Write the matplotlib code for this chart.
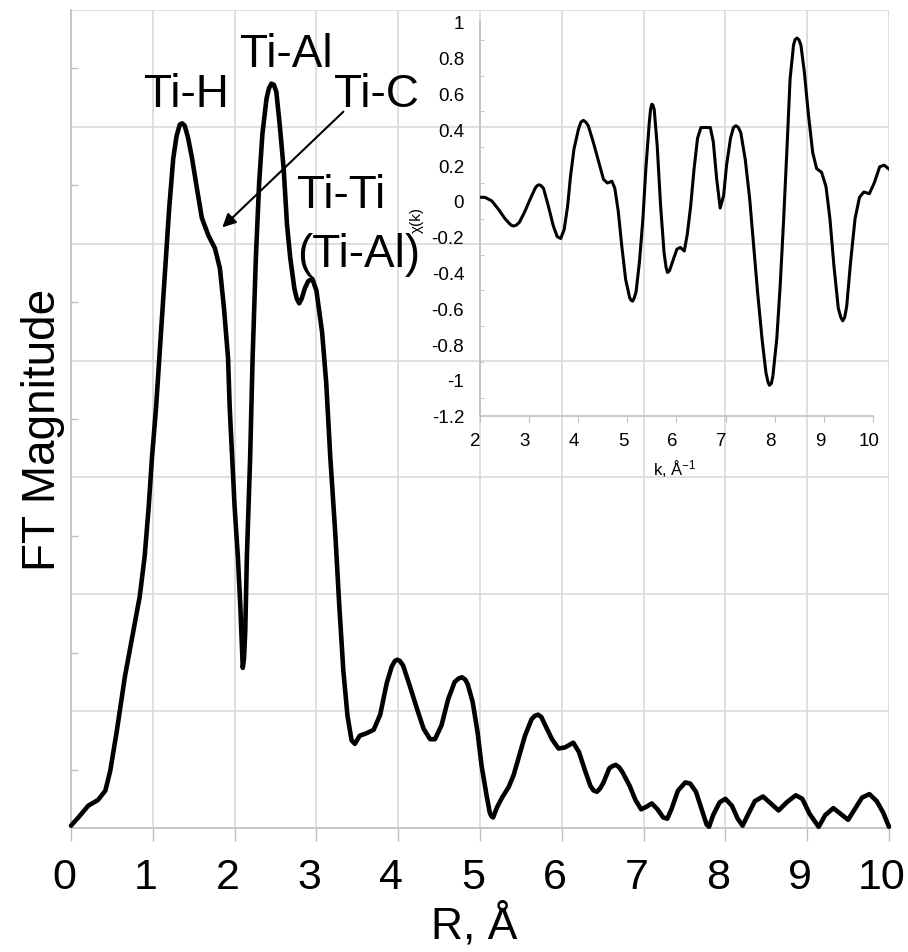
import numpy as np
import matplotlib
matplotlib.use("Agg")
import matplotlib.pyplot as plt
from matplotlib.transforms import ScaledTranslation

plt.rcParams['font.family'] = ['Liberation Sans', 'DejaVu Sans']
plt.rcParams['mathtext.fontset'] = 'custom'
plt.rcParams['mathtext.rm'] = 'Liberation Sans'
plt.rcParams['mathtext.it'] = 'Liberation Sans:italic'

# FT magnitude vs R (arbitrary units)
r_vals = [0.00, 0.09, 0.21, 0.33, 0.42, 0.48, 0.56, 0.66, 0.76, 0.84,
          0.90, 0.95, 0.99, 1.04, 1.08, 1.12, 1.16, 1.20, 1.25, 1.29,
          1.33, 1.36, 1.39, 1.43, 1.48, 1.54, 1.60, 1.68, 1.76, 1.82,
          1.87, 1.92, 1.94, 1.97, 2.00, 2.04, 2.07, 2.09, 2.10, 2.115,
          2.13, 2.15, 2.19, 2.22, 2.26, 2.30, 2.34, 2.39, 2.42, 2.45,
          2.48, 2.51, 2.55, 2.60, 2.64, 2.68, 2.73, 2.76, 2.79, 2.82,
          2.86, 2.90, 2.95, 3.00, 3.07, 3.12, 3.17, 3.23, 3.28, 3.33,
          3.38, 3.43, 3.47, 3.53, 3.61, 3.70, 3.78, 3.86, 3.92, 3.96,
          3.99, 4.02, 4.06, 4.14, 4.23, 4.31, 4.39, 4.45, 4.53, 4.61,
          4.69, 4.74, 4.78, 4.82, 4.85, 4.91, 4.97, 5.02, 5.08, 5.12,
          5.14, 5.16, 5.21, 5.27, 5.35, 5.41, 5.48, 5.55, 5.63, 5.67,
          5.71, 5.75, 5.79, 5.88, 5.96, 6.04, 6.14, 6.21, 6.28, 6.35,
          6.39, 6.43, 6.47, 6.51, 6.58, 6.62, 6.66, 6.70, 6.74, 6.83,
          6.90, 6.97, 7.03, 7.10, 7.17, 7.24, 7.29, 7.34, 7.42, 7.51,
          7.57, 7.64, 7.71, 7.77, 7.80, 7.85, 7.93, 8.00, 8.08, 8.15,
          8.21, 8.28, 8.36, 8.46, 8.54, 8.65, 8.75, 8.86, 8.94, 9.03,
          9.14, 9.22, 9.32, 9.41, 9.50, 9.58, 9.67, 9.76, 9.85, 9.93,
          10.00]
ft_vals = [0.02, 0.09, 0.19, 0.24, 0.32, 0.49, 0.83, 1.30, 1.68, 1.98,
           2.32, 2.75, 3.17, 3.60, 4.02, 4.45, 4.88, 5.30, 5.73, 5.92,
           6.02, 6.03, 6.01, 5.91, 5.73, 5.47, 5.22, 5.07, 4.96, 4.79,
           4.45, 4.02, 3.60, 3.17, 2.75, 2.32, 1.90, 1.55, 1.37, 1.45,
           1.68, 2.32, 3.17, 4.02, 4.88, 5.52, 5.94, 6.24, 6.33, 6.37,
           6.36, 6.30, 6.03, 5.64, 5.17, 4.88, 4.62, 4.53, 4.49, 4.53,
           4.62, 4.68, 4.70, 4.60, 4.24, 3.81, 3.17, 2.53, 1.90, 1.34,
           0.96, 0.75, 0.72, 0.79, 0.81, 0.84, 0.97, 1.24, 1.38, 1.43,
           1.44, 1.43, 1.39, 1.22, 1.02, 0.85, 0.76, 0.76, 0.88, 1.10,
           1.25, 1.28, 1.29, 1.27, 1.23, 1.08, 0.82, 0.53, 0.28, 0.13,
           0.10, 0.09, 0.18, 0.26, 0.35, 0.45, 0.62, 0.79, 0.93, 0.96,
           0.97, 0.95, 0.89, 0.76, 0.68, 0.69, 0.73, 0.65, 0.50, 0.36,
           0.32, 0.31, 0.34, 0.39, 0.51, 0.53, 0.54, 0.52, 0.48, 0.36,
           0.24, 0.16, 0.18, 0.21, 0.16, 0.09, 0.08, 0.16, 0.32, 0.39,
           0.38, 0.31, 0.16, 0.03, 0.01, 0.11, 0.22, 0.25, 0.19, 0.08,
           0.02, 0.12, 0.23, 0.27, 0.22, 0.15, 0.22, 0.28, 0.25, 0.12,
           0.01, 0.11, 0.17, 0.12, 0.07, 0.16, 0.26, 0.29, 0.23, 0.13,
           0.01]

# chi(k) for the inset
k_vals = [2.00, 2.11, 2.25, 2.38, 2.52, 2.62, 2.66, 2.70, 2.75, 2.81,
          2.92, 3.03, 3.13, 3.17, 3.21, 3.25, 3.30, 3.40, 3.50, 3.58,
          3.65, 3.72, 3.79, 3.85, 3.92, 4.01, 4.06, 4.11, 4.16, 4.21,
          4.31, 4.42, 4.52, 4.60, 4.69, 4.75, 4.82, 4.89, 4.97, 5.05,
          5.08, 5.11, 5.14, 5.18, 5.25, 5.32, 5.38, 5.45, 5.475, 5.50,
          5.525, 5.55, 5.61, 5.68, 5.75, 5.79, 5.82, 5.86, 5.91, 6.01,
          6.08, 6.16, 6.22, 6.29, 6.36, 6.43, 6.50, 6.58, 6.69, 6.75,
          6.82, 6.89, 6.96, 7.02, 7.10, 7.16, 7.21, 7.26, 7.31, 7.40,
          7.49, 7.57, 7.65, 7.74, 7.82, 7.86, 7.89, 7.93, 7.96, 8.04,
          8.11, 8.18, 8.25, 8.31, 8.38, 8.41, 8.45, 8.49, 8.53, 8.60,
          8.68, 8.77, 8.85, 8.95, 9.04, 9.12, 9.20, 9.29, 9.34, 9.38,
          9.42, 9.46, 9.54, 9.63, 9.72, 9.81, 9.92, 10.02, 10.13, 10.22,
          10.31]
chi_vals = [0.02, 0.02, 0.00, -0.045, -0.10, -0.13, -0.138, -0.14, -0.135, -0.12,
            -0.06, 0.01, 0.07, 0.085, 0.09, 0.085, 0.07, -0.03, -0.14, -0.20,
            -0.21, -0.16, -0.03, 0.14, 0.29, 0.40, 0.44, 0.45, 0.44, 0.42,
            0.33, 0.22, 0.12, 0.10, 0.11, 0.07, -0.06, -0.25, -0.44, -0.54,
            -0.555, -0.56, -0.545, -0.51, -0.34, -0.10, 0.18, 0.44, 0.51, 0.54,
            0.535, 0.51, 0.31, -0.03, -0.29, -0.37, -0.40, -0.39, -0.35, -0.27,
            -0.26, -0.28, -0.19, -0.03, 0.18, 0.35, 0.41, 0.41, 0.41, 0.33,
            0.12, -0.04, 0.03, 0.20, 0.35, 0.41, 0.42, 0.41, 0.38, 0.23,
            0.01, -0.25, -0.51, -0.77, -0.96, -1.01, -1.03, -1.02, -0.98, -0.77,
            -0.47, -0.10, 0.31, 0.68, 0.87, 0.90, 0.91, 0.90, 0.87, 0.72,
            0.49, 0.27, 0.18, 0.16, 0.08, -0.10, -0.36, -0.60, -0.65, -0.67,
            -0.65, -0.59, -0.34, -0.10, 0.02, 0.05, 0.04, 0.10, 0.19, 0.20,
            0.18]

r_ticks = list(range(0, 11))
k_ticks = list(range(2, 11))
chi_ticks = [-1.2, -1.0, -0.8, -0.6, -0.4, -0.2, 0.0, 0.2, 0.4, 0.6, 0.8, 1.0]
chi_tick_labels = ['-1.2', '-1', '-0.8', '-0.6', '-0.4', '-0.2', '0', '0.2', '0.4', '0.6', '0.8', '1']

# peak labels: (text, R, y, alignment)
peak_labels = [('Ti-H', 1.41, 6.18, 'center'),
               ('Ti-Al', 2.63, 6.52, 'center'),
               ('Ti-C', 3.73, 6.18, 'center'),
               ('Ti-Ti', 2.76, 5.31, 'left'),
               ('(Ti-Al)', 2.76, 4.81, 'left')]

grey = '#bfbfbf'
grid_grey = '#d9d9d9'

fig = plt.figure(figsize=(9.08, 9.53), dpi=100)

# main plot
ax = fig.add_axes([71/908, 124/953, 818/908, 818/953])
ax.plot(r_vals, ft_vals, color='black', lw=3.3, solid_joinstyle='round',
        solid_capstyle='round', zorder=3, clip_on=False)
ax.set_xlim(0, 10)
ax.set_ylim(0, 7)
ax.set_xticks(r_ticks)
ax.set_yticks(range(0, 8))
ax.set_yticks(np.arange(0.5, 7, 1), minor=True)
ax.grid(True, which='major', color=grid_grey, lw=1.2)
for s in ['top', 'right']:
    ax.spines[s].set_visible(False)
for s in ['left', 'bottom']:
    ax.spines[s].set_color(grey)
    ax.spines[s].set_linewidth(1.2)
ax.tick_params(axis='y', which='major', length=0, labelleft=False)
ax.tick_params(axis='y', which='minor', direction='in', length=5, color=grey, width=1)
ax.tick_params(axis='x', which='major', direction='out', length=9, color=grey, width=1,
               labelsize=31, pad=12)
ax.set_xlabel('R, Å', fontsize=32)
ax.xaxis.set_label_coords(0.493, -0.09)
ax.set_ylabel('FT Magnitude', fontsize=33)
ax.yaxis.set_label_coords(-0.007, 0.488)

for txt, x, y, ha in peak_labels:
    ax.text(x, y, txt, fontsize=33, ha=ha, va='baseline', zorder=4)
ax.annotate('', xy=(1.85, 5.14), xytext=(3.33, 6.13),
            arrowprops=dict(arrowstyle='-|>', color='black', lw=1.5,
                            mutation_scale=20, shrinkA=0, shrinkB=0), zorder=4)

for lab in ax.get_xticklabels():
    lab.set_transform(lab.get_transform() + ScaledTranslation(-7/100, 0, fig.dpi_scale_trans))

# inset chi(k)
ax_in = fig.add_axes([479.5/908, (953-416.7)/953, 409.5/908, 393.8/953])
ax_in.set_facecolor('none')
ax_in.plot(k_vals, chi_vals, color='black', lw=2.2, solid_joinstyle='round', zorder=3)
ax_in.set_xlim(2, 10.32)
ax_in.set_ylim(-1.2, 1.0)
for s in ['top', 'right']:
    ax_in.spines[s].set_visible(False)
for s in ['left', 'bottom']:
    ax_in.spines[s].set_color(grey)
    ax_in.spines[s].set_linewidth(1.2)
ax_in.spines['bottom'].set_bounds(2, 10)
ax_in.spines['left'].set_bounds(-1.2, 1.0)
ax_in.set_xticks(k_ticks)
ax_in.set_yticks(chi_ticks)
ax_in.set_yticklabels(chi_tick_labels)
ax_in.set_yticks(np.arange(-1.1, 1.0, 0.2), minor=True)
ax_in.tick_params(axis='x', which='major', direction='out', length=4, color=grey,
                  labelsize=13.5, pad=8)
ax_in.tick_params(axis='y', which='major', length=0, labelsize=13.5, pad=11)
ax_in.tick_params(axis='y', which='minor', direction='in', length=3, color=grey)
ax_in.set_xlabel(r'k, Å$^{-1}$', fontsize=12)
ax_in.xaxis.set_label_coords(0.477, -0.105)
ax_in.set_ylabel('χ(k)', fontsize=11)
ax_in.yaxis.set_label_coords(-0.135, 0.5)

for lab in ax_in.get_xticklabels():
    lab.set_transform(lab.get_transform() + ScaledTranslation(-4/100, 0, fig.dpi_scale_trans))

fig.savefig('out.png', dpi=100)
